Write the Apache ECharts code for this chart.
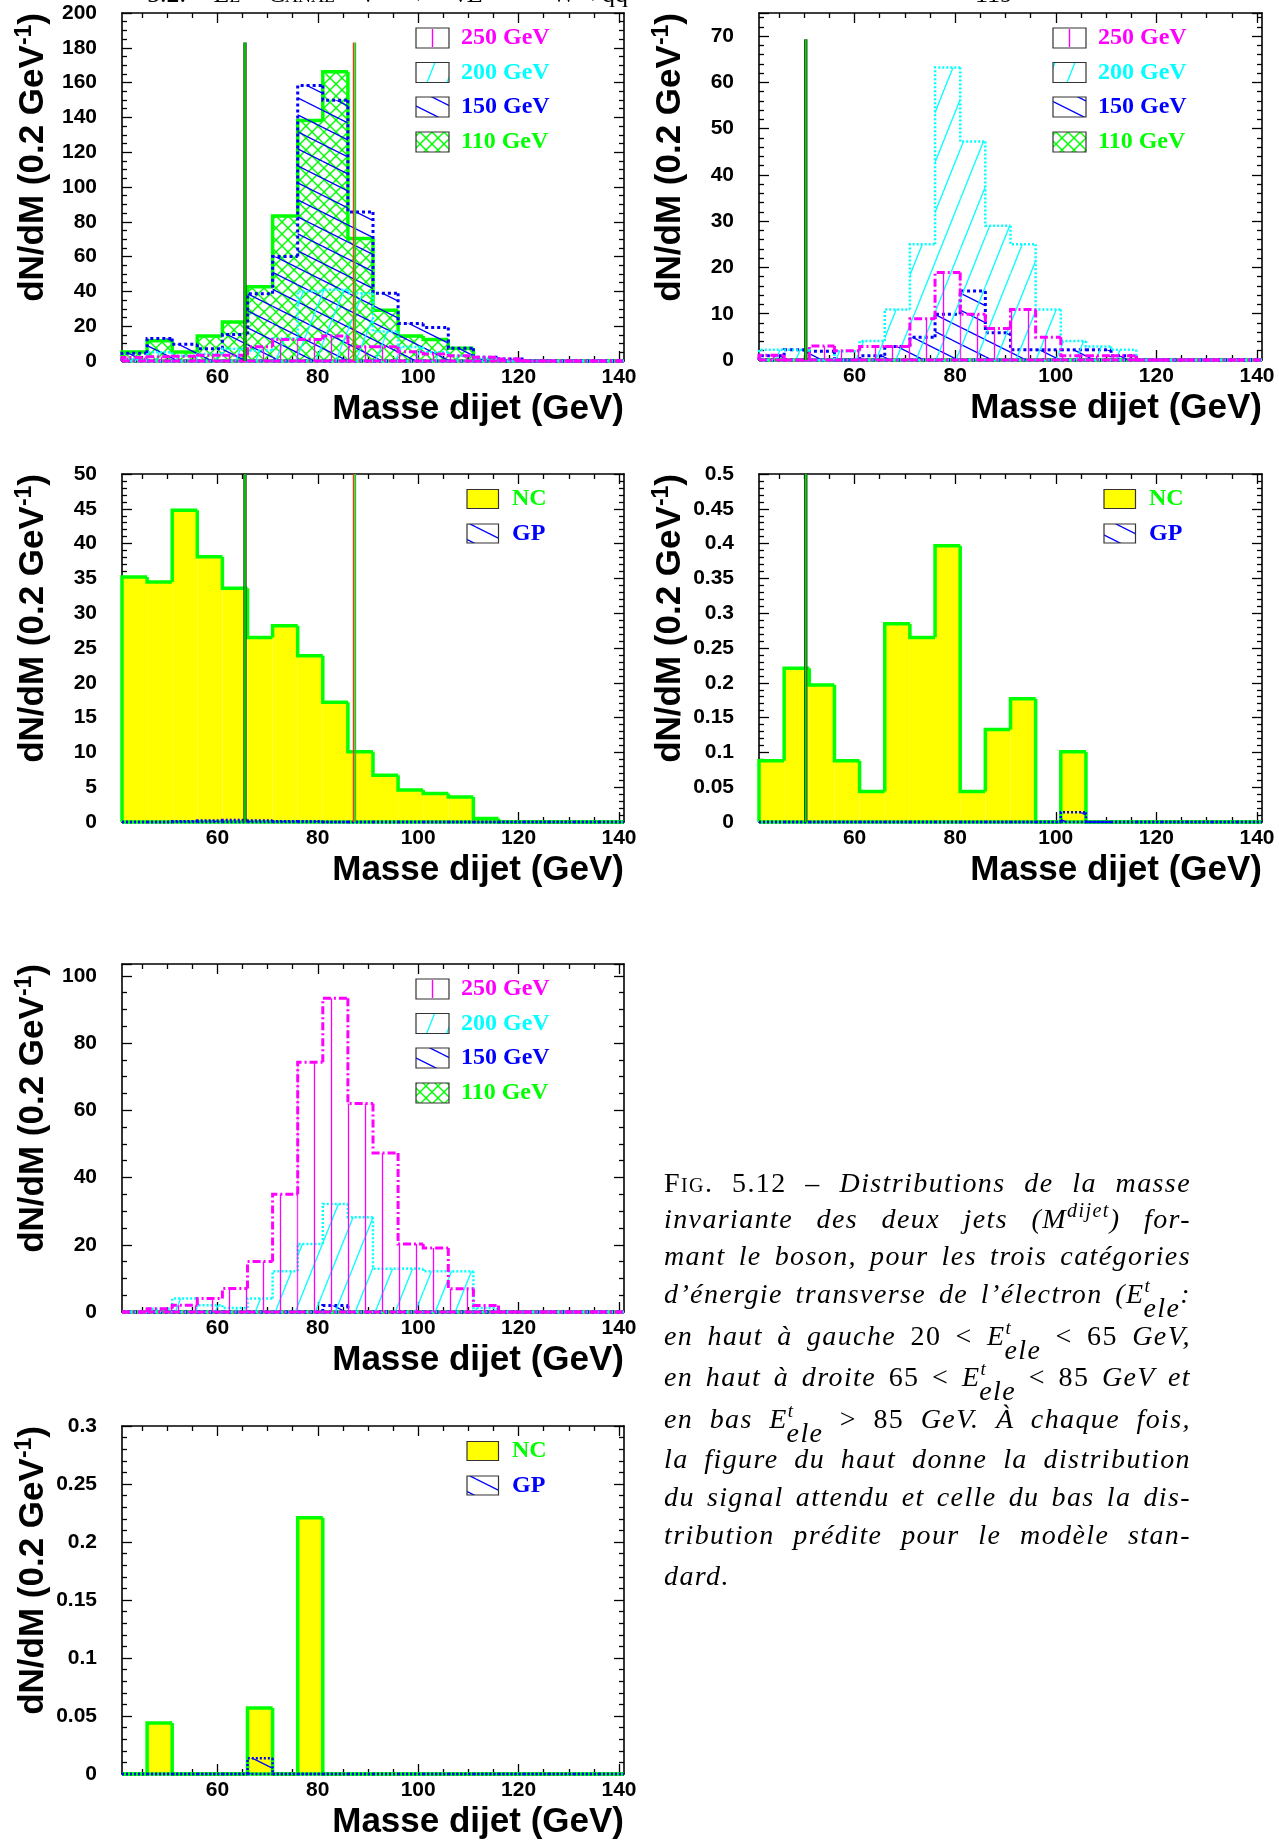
<!DOCTYPE html>
<html>
<head>
<meta charset="utf-8">
<script src="https://cdn.jsdelivr.net/npm/echarts@6.0.0/dist/echarts.min.js"></script>
<style>
 html,body{margin:0;padding:0;background:#fff;width:1279px;height:1841px;overflow:hidden;}
 #chart{position:absolute;left:0;top:0;width:1279px;height:1841px;}
 .hdr{position:absolute;font-family:"Liberation Serif","DejaVu Serif",serif;font-size:26px;line-height:30px;white-space:nowrap;color:#000;text-align:justify;text-align-last:justify;}
 .cl{position:absolute;left:664px;width:527px;font-family:"Liberation Serif","DejaVu Serif",serif;font-size:28px;letter-spacing:1.4px;line-height:30px;font-style:italic;white-space:nowrap;text-align:justify;text-align-last:justify;color:#000;}
 .cl.last{text-align:left;text-align-last:left;}
 .up{font-style:normal;}
 .sc{font-variant:small-caps;font-style:normal;}
 .sup{position:relative;top:-0.55em;font-size:0.72em;}
 .t{position:relative;top:-0.6em;font-size:0.68em;}
 .e{position:relative;top:0.5em;margin-left:-0.28em;}
</style>
</head>
<body>
<div id="chart"></div>
<div class="hdr" style="left:147px;top:-21px;width:481px">5.2. <span class="sc">Le Canal</span> ν̄ → ν̄E + W→qq̄</div>
<div class="hdr" style="left:975px;top:-21px;width:45px">119</div>

<div class="cl" style="top:1168px"><span class="up"><span class="sc">Fig.</span> 5.12 –</span> Distributions de la masse</div>
<div class="cl" style="top:1204px">invariante des deux jets (M<span class="sup">dijet</span>) for-</div>
<div class="cl" style="top:1241px">mant le boson, pour les trois catégories</div>
<div class="cl" style="top:1279px">d’énergie transverse de l’électron (E<span class="t">t</span><span class="e">ele</span>:</div>
<div class="cl" style="top:1321px">en haut à gauche <span class="up">20 &lt;</span> E<span class="t">t</span><span class="e">ele</span> <span class="up">&lt; 65</span> GeV,</div>
<div class="cl" style="top:1362px">en haut à droite <span class="up">65 &lt;</span> E<span class="t">t</span><span class="e">ele</span> <span class="up">&lt; 85</span> GeV et</div>
<div class="cl" style="top:1404px">en bas E<span class="t">t</span><span class="e">ele</span> <span class="up">&gt; 85</span> GeV. À chaque fois,</div>
<div class="cl" style="top:1444px">la figure du haut donne la distribution</div>
<div class="cl" style="top:1482px">du signal attendu et celle du bas la dis-</div>
<div class="cl" style="top:1520px">tribution prédite pour le modèle stan-</div>
<div class="cl last" style="top:1561px">dard.</div>

<script>
// ---------------- DATA ----------------
const X_MIN = 41, X_MAX = 141, BIN_W = 5;          // 20 bins of 5 GeV
const xMajorTicks = [60, 80, 100, 120, 140];
const xMinorTicks = [45, 50, 55, 65, 70, 75, 85, 90, 95, 105, 110, 115, 125, 130, 135];

// top-left : 20 < Et < 65 GeV, expected signal
const sigLow250 = [2, 2.5, 2.8, 3.3, 3.3, 8.2, 12.4, 12.4, 14.4, 8.2, 8.2, 5.3, 4, 3, 2.2, 1.2, 0, 0, 0, 0];
const sigLow200 = [1, 5, 3, 4, 7, 6, 13, 40, 41, 39, 17, 8, 5, 3, 1.5, 0, 0, 0, 0, 0];
const sigLow150 = [4.5, 13, 9.6, 7.1, 15.3, 38.7, 60, 158.3, 149.9, 85.6, 39, 21.6, 19.3, 7.3, 2.2, 1.1, 0, 0, 0, 0];
const sigLow110 = [5.2, 11.7, 5.2, 14.4, 22.4, 42.7, 83.4, 138.2, 166.3, 70.4, 29.2, 14.4, 12.3, 7.3, 0.4, 0, 0, 0, 0, 0];
// top-right : 65 < Et < 85 GeV, expected signal
const sigMid250 = [1, 0, 3, 2, 2.9, 2.9, 8.9, 18.9, 9.9, 6.8, 10.9, 4.9, 0.9, 0.9, 0.9, 0, 0, 0, 0, 0];
const sigMid200 = [2.2, 2.2, 0, 1.9, 4.1, 10.9, 25, 63.2, 47.2, 29, 25, 10.9, 4.1, 2.9, 2.2, 0, 0, 0, 0, 0];
const sigMid150 = [0.9, 2.2, 1.9, 0, 0.9, 2.9, 4.9, 9.9, 14.9, 5.9, 2.2, 2.2, 2.2, 2.2, 0.9, 0, 0, 0, 0, 0];
const sigMid110 = [0, 0, 0, 0, 0, 0, 0, 0, 0, 0, 0, 0, 0, 0, 0, 0, 0, 0, 0, 0];
// middle-left : 20 < Et < 65 GeV, standard model
const smLowNC = [35.2, 34.5, 44.8, 38.1, 33.6, 26.5, 28.2, 23.9, 17.2, 10.1, 6.7, 4.6, 4.1, 3.6, 0.5, 0, 0, 0, 0, 0];
const smLowGP = [0, 0, 0.1, 0.2, 0.3, 0.2, 0.1, 0.1, 0, 0, 0, 0, 0, 0, 0, 0, 0, 0, 0, 0];
// middle-right : 65 < Et < 85 GeV, standard model
const smMidNC = [0.088, 0.221, 0.197, 0.088, 0.044, 0.285, 0.265, 0.397, 0.044, 0.133, 0.177, 0, 0.101, 0, 0, 0, 0, 0, 0, 0];
const smMidGP = [0, 0, 0, 0, 0, 0, 0, 0, 0, 0, 0, 0, 0.014, 0, 0, 0, 0, 0, 0, 0];
// lower : Et > 85 GeV, expected signal
const sigHigh250 = [0, 1, 2, 4, 7, 15, 35, 74.3, 93.3, 62, 47.3, 20.2, 19, 6.9, 1.9, 0, 0, 0, 0, 0];
const sigHigh200 = [0, 1, 4, 2, 1.2, 4, 12.1, 20.2, 32.1, 28.2, 12.9, 12.9, 12.1, 12.1, 1.2, 0, 0, 0, 0, 0];
const sigHigh150 = [0, 0, 0, 0, 0, 0, 0, 0, 1.9, 0, 0, 0, 0, 0, 0, 0, 0, 0, 0, 0];
const sigHigh110 = [0, 0, 0, 0, 0, 0, 0, 0, 0, 0, 0, 0, 0, 0, 0, 0, 0, 0, 0, 0];
// bottom : Et > 85 GeV, standard model
const smHighNC = [0, 0.044, 0, 0, 0, 0.057, 0, 0.221, 0, 0, 0, 0, 0, 0, 0, 0, 0, 0, 0, 0];
const smHighGP = [0, 0, 0, 0, 0, 0.0135, 0, 0, 0, 0, 0, 0, 0, 0, 0, 0, 0, 0, 0, 0];

// cut lines: [mass, height]
const cutsLowSig = [[65.5, 183], [87.3, 183]];
const cutsLowSM  = [[65.5, 50], [87.3, 50]];
const cutsMidSig = [[50.3, 69.3]];
const cutsMidSM  = [[50.3, 0.5]];

const signalLegend = ['250 GeV', '200 GeV', '150 GeV', '110 GeV'];
const smLegend = ['NC', 'GP'];
const xTitle = 'Masse dijet (GeV)';

// ---------------- STYLES ----------------
const SANS = "'Liberation Sans', Arial, Helvetica, sans-serif";
const SERIF = "'Liberation Serif', 'Times New Roman', serif";
const ST = {
  m250: {color: '#ff00ff', width: 3, dash: [8, 3, 2, 3], pattern: 'vert'},
  c200: {color: '#00ffff', width: 2.5, dash: [2, 2], pattern: 'fwd'},
  b150: {color: '#0000ff', width: 3, dash: [3, 3], pattern: 'back'},
  g110: {color: '#00ff00', width: 3.5, dash: null, pattern: 'cross'},
  nc:   {color: '#00ff00', width: 3.5, dash: null, fill: '#ffff00'},
  gp:   {color: '#0000ff', width: 2.5, dash: [2, 2], pattern: 'back'}
};

function makePattern(kind, color) {
  const c = document.createElement('canvas');
  let w, h;
  if (kind === 'vert') { w = 17; h = 10; }
  else if (kind === 'fwd') { w = 20; h = 50; }
  else if (kind === 'back') { w = 34; h = 17; }
  else { w = 12; h = 12; }
  c.width = w; c.height = h;
  const g = c.getContext('2d');
  g.strokeStyle = color; g.lineWidth = kind === 'cross' ? 1.4 : 1.3;
  const seg = (x1, y1, x2, y2) => {
    for (let dx = -w; dx <= w; dx += w) for (let dy = -h; dy <= h; dy += h) {
      g.beginPath(); g.moveTo(x1 + dx, y1 + dy); g.lineTo(x2 + dx, y2 + dy); g.stroke();
    }
  };
  if (kind === 'vert') seg(8.5, 0, 8.5, h);
  else if (kind === 'fwd') seg(0, h, w, 0);
  else if (kind === 'back') seg(0, 0, w, h);
  else { seg(0, 0, w, h); seg(0, h, w, 0); }
  return {image: c, repeat: 'repeat'};
}
const PAT = {};
function pat(st) { const k = st.pattern + st.color; if (!PAT[k]) PAT[k] = makePattern(st.pattern, st.color); return PAT[k]; }

const panels = [
  {l: 122, t: 13, w: 502, h: 348, yMax: 200, yInt: 20, yMinor: 4, legend: 'sig',
   hists: [[sigLow110, ST.g110], [sigLow150, ST.b150], [sigLow200, ST.c200], [sigLow250, ST.m250]], cuts: cutsLowSig, cutKinds: [0, 1]},
  {l: 759, t: 13, w: 503, h: 347, yMax: 75, yInt: 10, yMinor: 5, legend: 'sig',
   hists: [[sigMid110, ST.g110], [sigMid150, ST.b150], [sigMid200, ST.c200], [sigMid250, ST.m250]], cuts: cutsMidSig, cutKinds: [0]},
  {l: 122, t: 474, w: 502, h: 348, yMax: 50, yInt: 5, yMinor: 5, legend: 'sm',
   hists: [[smLowNC, ST.nc], [smLowGP, ST.gp]], cuts: cutsLowSM, cutKinds: [0, 1]},
  {l: 759, t: 474, w: 503, h: 348, yMax: 0.5, yInt: 0.05, yMinor: 5, legend: 'sm',
   hists: [[smMidNC, ST.nc], [smMidGP, ST.gp]], cuts: cutsMidSM, cutKinds: [0]},
  {l: 122, t: 964, w: 502, h: 348, yMax: 103.5, yInt: 20, yMinor: 4, legend: 'sig',
   hists: [[sigHigh110, ST.g110], [sigHigh150, ST.b150], [sigHigh200, ST.c200], [sigHigh250, ST.m250]], cuts: null},
  {l: 122, t: 1426, w: 502, h: 348, yMax: 0.3, yInt: 0.05, yMinor: 5, legend: 'sm',
   hists: [[smHighNC, ST.nc], [smHighGP, ST.gp]], cuts: null}
];

function histSeries(gi, values, st, z) {
  const n = values.length;
  const data = values.map((v, i) => [X_MIN + i * BIN_W, X_MIN + (i + 1) * BIN_W, v, i > 0 ? values[i - 1] : 0, i === n - 1 ? 1 : 0]);
  const fill = st.fill || (st.pattern ? pat(st) : null);
  return {
    type: 'custom', coordinateSystem: 'cartesian2d', xAxisIndex: gi * 4, yAxisIndex: gi * 2, z: z, silent: true,
    data: data, encode: {x: [0, 1], y: [2]},
    renderItem: function (params, api) {
      const lo = api.value(0), hi = api.value(1), v = api.value(2), pv = api.value(3), last = api.value(4);
      const a = api.coord([lo, 0]), b = api.coord([hi, v]), c = api.coord([lo, pv]), d = api.coord([lo, v]), e = api.coord([hi, 0]);
      const ch = [];
      if (v > 0 && fill) ch.push({type: 'rect', shape: {x: a[0], y: b[1], width: b[0] - a[0], height: a[1] - b[1]}, style: {fill: fill, stroke: null}});
      const pts = [c, d, b]; if (last) pts.push(e);
      const ls = {stroke: st.color, lineWidth: st.width, lineDash: st.dash || null, fill: null};
      ch.push({type: 'polyline', shape: {points: pts}, style: ls});
      ch.push({type: 'line', shape: {x1: a[0], y1: a[1], x2: e[0], y2: e[1]}, style: ls});
      return {type: 'group', children: ch};
    }
  };
}

function cutSeries(gi, cuts, kinds) {
  return {
    type: 'custom', coordinateSystem: 'cartesian2d', xAxisIndex: gi * 4, yAxisIndex: gi * 2, z: 20, silent: true,
    data: cuts, encode: {x: [0], y: [1]},
    renderItem: function (params, api) {
      const x = api.value(0), top = api.value(1);
      const p0 = api.coord([x, 0]), p1 = api.coord([x, top]);
      const k = kinds[params.dataIndex];
      if (k === 0) {
        return {type: 'group', children: [
          {type: 'line', shape: {x1: p0[0], y1: p0[1], x2: p1[0], y2: p1[1]}, style: {stroke: '#1f3f1f', lineWidth: 3.4}},
          {type: 'line', shape: {x1: p0[0], y1: p0[1], x2: p1[0], y2: p1[1]}, style: {stroke: '#00dd00', lineWidth: 1.6}}]};
      }
      return {type: 'group', children: [
        {type: 'line', shape: {x1: p0[0] - 0.8, y1: p0[1], x2: p1[0] - 0.8, y2: p1[1]}, style: {stroke: '#e8401c', lineWidth: 1.7}},
        {type: 'line', shape: {x1: p0[0] + 0.9, y1: p0[1], x2: p1[0] + 0.9, y2: p1[1]}, style: {stroke: '#22cc22', lineWidth: 1.7}}]};
    }
  };
}

const grids = [], xAxes = [], yAxes = [], series = [], graphics = [];
const tickStyle = {color: '#000', width: 1.3};
const axLine = {show: true, lineStyle: {color: '#000', width: 1.6}};
const lbl = {fontSize: 21, fontWeight: 'bold', fontFamily: SANS, color: '#000'};

panels.forEach((p, gi) => {
  grids.push({left: p.l, top: p.t, width: p.w, height: p.h, show: false, containLabel: false});
  const xb = {type: 'value', gridIndex: gi, min: X_MIN, max: X_MAX, splitLine: {show: false}, minorTick: {show: false}};
  xAxes.push(Object.assign({}, xb, {position: 'bottom', axisLine: axLine,
    axisTick: {show: true, inside: true, length: 10, lineStyle: tickStyle, customValues: xMajorTicks},
    axisLabel: Object.assign({show: true, margin: 6, customValues: xMajorTicks}, lbl)}));
  xAxes.push(Object.assign({}, xb, {position: 'bottom', axisLine: {show: false},
    axisTick: {show: true, inside: true, length: 5, lineStyle: tickStyle, customValues: xMinorTicks}, axisLabel: {show: false}}));
  xAxes.push(Object.assign({}, xb, {position: 'top', axisLine: axLine,
    axisTick: {show: true, inside: true, length: 10, lineStyle: tickStyle, customValues: xMajorTicks}, axisLabel: {show: false}}));
  xAxes.push(Object.assign({}, xb, {position: 'top', axisLine: {show: false},
    axisTick: {show: true, inside: true, length: 5, lineStyle: tickStyle, customValues: xMinorTicks}, axisLabel: {show: false}}));
  const yb = {type: 'value', gridIndex: gi, min: 0, max: p.yMax, interval: p.yInt, splitLine: {show: false},
    axisLine: axLine, axisTick: {show: true, inside: true, length: 10, lineStyle: tickStyle},
    minorTick: {show: true, splitNumber: p.yMinor, length: 5, lineStyle: tickStyle}, minorSplitLine: {show: false}};
  yAxes.push(Object.assign({}, yb, {position: 'left', axisLabel: Object.assign({show: true, margin: 25,
    showMaxLabel: true,
    formatter: function (v) { const r = v / p.yInt; if (Math.abs(r - Math.round(r)) > 1e-6) return ''; return String(parseFloat(v.toFixed(3))); }}, lbl)}));
  yAxes.push(Object.assign({}, yb, {position: 'right', axisLabel: {show: false}}));

  p.hists.forEach((hh, k) => series.push(histSeries(gi, hh[0], hh[1], 5 + k)));
  if (p.cuts) series.push(cutSeries(gi, p.cuts, p.cutKinds));

  // axis titles
  graphics.push({type: 'text', x: p.l - 89, y: p.t, rotation: Math.PI / 2, silent: true, z: 50,
    style: {text: '{a|dN/dM (0.2 GeV}{b|-1}{a|)}', align: 'right', verticalAlign: 'middle',
      rich: {a: {fontSize: 35, fontWeight: 'bold', fontFamily: SANS, lineHeight: 40, fill: '#000'},
             b: {fontSize: 23, fontWeight: 'bold', fontFamily: SANS, lineHeight: 24, verticalAlign: 'top', fill: '#000'}}}});
  graphics.push({type: 'text', x: p.l + p.w, y: p.t + p.h + 31, silent: true, z: 50,
    style: {text: xTitle, align: 'right', verticalAlign: 'top', fontSize: 35, fontWeight: 'bold', fontFamily: SANS, fill: '#000'}});

  // legends
  if (p.legend === 'sig') {
    const rows = [25, 59.5, 94, 129];
    const sts = [ST.m250, ST.c200, ST.b150, ST.g110];
    sts.forEach((st, r) => {
      const bx = p.l + 294, by = p.t + rows[r] - 10;
      if (st.pattern === 'vert') {
        graphics.push({type: 'rect', shape: {x: bx, y: by, width: 33, height: 20}, style: {fill: '#fff', stroke: '#333', lineWidth: 1.2}, z: 60, silent: true});
        graphics.push({type: 'line', shape: {x1: bx + 16.5, y1: by + 1, x2: bx + 16.5, y2: by + 19}, style: {stroke: st.color, lineWidth: 1.4}, z: 61, silent: true});
      } else {
        graphics.push({type: 'rect', shape: {x: bx, y: by, width: 33, height: 20}, style: {fill: '#fff', stroke: null}, z: 60, silent: true});
        graphics.push({type: 'rect', shape: {x: bx, y: by, width: 33, height: 20}, style: {fill: pat(st), stroke: '#333', lineWidth: 1.2}, z: 61, silent: true});
      }
      graphics.push({type: 'text', x: p.l + 339, y: p.t + rows[r], silent: true, z: 62,
        style: {text: signalLegend[r], align: 'left', verticalAlign: 'middle', fontSize: 24, fontWeight: 'bold', fontFamily: SERIF, fill: st.color}});
    });
  } else {
    const rows = [25, 59.5];
    const bx = p.l + 345;
    graphics.push({type: 'rect', shape: {x: bx, y: p.t + rows[0] - 9.5, width: 31.5, height: 19}, style: {fill: '#ffff00', stroke: '#333', lineWidth: 1.2}, z: 60, silent: true});
    graphics.push({type: 'rect', shape: {x: bx, y: p.t + rows[1] - 9.5, width: 31.5, height: 19}, style: {fill: '#fff', stroke: null}, z: 60, silent: true});
    graphics.push({type: 'rect', shape: {x: bx, y: p.t + rows[1] - 9.5, width: 31.5, height: 19}, style: {fill: pat(ST.gp), stroke: '#333', lineWidth: 1.2}, z: 61, silent: true});
    graphics.push({type: 'text', x: p.l + 390, y: p.t + rows[0], silent: true, z: 62,
      style: {text: smLegend[0], align: 'left', verticalAlign: 'middle', fontSize: 24, fontWeight: 'bold', fontFamily: SERIF, fill: '#00ff00'}});
    graphics.push({type: 'text', x: p.l + 390, y: p.t + rows[1], silent: true, z: 62,
      style: {text: smLegend[1], align: 'left', verticalAlign: 'middle', fontSize: 24, fontWeight: 'bold', fontFamily: SERIF, fill: '#0000ff'}});
  }
});

const chart = echarts.init(document.getElementById('chart'), null, {renderer: 'canvas', width: 1279, height: 1841});
chart.setOption({
  animation: false,
  backgroundColor: '#ffffff',
  grid: grids, xAxis: xAxes, yAxis: yAxes, series: series,
  graphic: {elements: graphics}
});
</script>
</body>
</html>
